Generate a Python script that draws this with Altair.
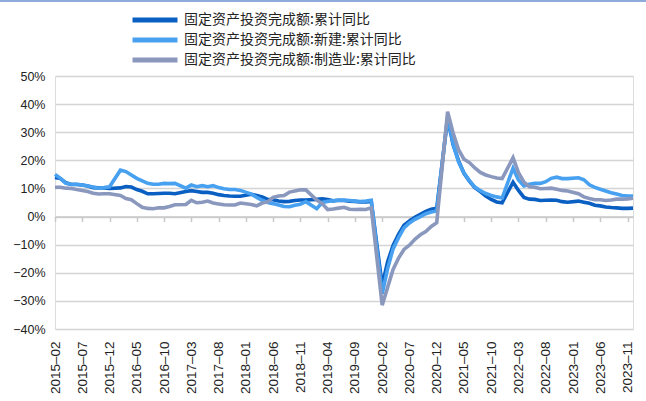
import altair as alt
import pandas as pd

# series names
names = ["固定资产投资完成额:累计同比", "固定资产投资完成额:新建:累计同比", "固定资产投资完成额:制造业:累计同比"]
colors = ["#0A5FC2", "#47A1F0", "#8A98BE"]

# axis labels (every 5 months)
tick_labels = ["2015-02", "2015-07", "2015-12", "2016-05", "2016-10", "2017-03", "2017-08",
               "2018-01", "2018-06", "2018-11", "2019-04", "2019-09", "2020-02", "2020-07",
               "2020-12", "2021-05", "2021-10", "2022-03", "2022-08", "2023-01", "2023-06", "2023-11"]

# Feb..Dec values per year (January not published)
fai = [
    13.9, 13.5, 12.0, 11.4, 11.4, 11.2, 10.9, 10.3, 10.2, 10.2, 10.0,   # 2015
    10.2, 10.7, 10.5, 9.6, 9.0, 8.1, 8.1, 8.2, 8.3, 8.3, 8.1,           # 2016
    8.9, 9.2, 8.9, 8.6, 8.6, 8.3, 7.8, 7.5, 7.3, 7.2, 7.2,              # 2017
    7.9, 7.5, 7.0, 6.1, 6.0, 5.5, 5.3, 5.4, 5.7, 5.9, 5.9,              # 2018
    6.1, 6.3, 6.1, 5.6, 5.8, 5.7, 5.5, 5.4, 5.2, 5.2, 5.4,              # 2019
    -24.5, -16.1, -10.3, -6.3, -3.1, -1.6, -0.3, 0.8, 1.8, 2.6, 2.9,    # 2020
    35.0, 25.6, 19.9, 15.4, 12.6, 10.3, 8.9, 7.3, 6.1, 5.2, 4.9,        # 2021
    12.2, 9.3, 6.8, 6.2, 6.1, 5.7, 5.8, 5.9, 5.8, 5.3, 5.1,             # 2022
    5.5, 5.1, 4.7, 4.0, 3.8, 3.4, 3.2, 3.1, 2.9, 2.9, 3.0,              # 2023
]
new_build = [
    15.0, 13.6, 11.8, 11.5, 11.5, 11.2, 10.9, 10.5, 10.1, 10.3, 10.6,   # 2015
    16.5, 16.0, 14.8, 13.6, 12.7, 11.8, 11.5, 11.5, 11.8, 11.7, 11.8,   # 2016
    10.1, 11.2, 10.6, 11.0, 10.6, 11.0, 10.3, 9.9, 9.6, 9.6, 9.3,       # 2017
    8.0, 6.8, 5.8, 5.0, 4.6, 4.1, 3.6, 3.5, 4.0, 4.4, 5.3,              # 2018
    2.8, 5.0, 5.4, 5.6, 5.8, 5.9, 5.7, 5.5, 5.3, 5.5, 5.8,              # 2019
    -27.5, -18.5, -11.5, -7.5, -4.0, -2.3, -1.0, 0.0, 1.0, 1.6, 2.0,    # 2020
    35.5, 26.0, 19.5, 15.5, 12.8, 10.5, 9.2, 8.2, 7.5, 7.0, 6.6,        # 2021
    17.2, 13.0, 10.9, 11.5, 11.8, 11.8, 12.4, 13.6, 14.0, 13.5, 13.5,   # 2022
    13.8, 13.1, 11.3, 10.4, 9.7, 9.1, 8.5, 8.0, 7.5, 7.3, 7.3,          # 2023
]
manufacturing = [
    10.4, 10.4, 10.1, 10.0, 9.6, 9.3, 8.9, 8.3, 8.0, 8.1, 8.1,          # 2015
    7.5, 6.4, 6.0, 4.6, 3.3, 2.9, 2.8, 3.1, 3.1, 3.6, 4.2,              # 2016
    4.3, 5.8, 4.9, 5.1, 5.5, 4.8, 4.5, 4.2, 4.1, 4.1, 4.8,              # 2017
    4.3, 3.8, 4.8, 5.2, 6.8, 7.3, 7.5, 8.7, 9.1, 9.5, 9.5,              # 2018
    5.9, 4.6, 2.5, 2.7, 3.0, 3.3, 2.6, 2.5, 2.6, 2.5, 3.1,              # 2019
    -31.5, -25.2, -18.8, -14.8, -11.7, -10.2, -8.1, -6.5, -5.3, -3.5, -2.2,  # 2020
    37.3, 29.8, 23.8, 20.4, 19.2, 17.3, 15.7, 14.8, 14.2, 13.7, 13.5,   # 2021
    20.9, 15.6, 12.2, 10.6, 10.4, 9.9, 10.0, 10.1, 9.7, 9.3, 9.1,       # 2022
    8.1, 7.0, 6.4, 6.0, 6.0, 5.7, 5.9, 6.2, 6.2, 6.3, 6.5,              # 2023
]

all_months = [p.strftime("%Y-%m") for p in pd.period_range("2015-02", "2023-12", freq="M")]
data_months = [m for m in all_months if not m.endswith("-01")]

rows = []
for name, vals in zip(names, [fai, new_build, manufacturing]):
    for m, v in zip(data_months, vals):
        rows.append({"month": m, "value": v, "series": name})
df = pd.DataFrame(rows)

W, H = 578, 253
YMIN, YMAX = -40, 50
zero_offset = -H * (0 - YMIN) / (YMAX - YMIN)

xscale = alt.Scale(domain=all_months, type="point", padding=0)
yscale = alt.Scale(domain=[YMIN, YMAX], nice=False)
cscale = alt.Scale(domain=names, range=colors)

x_main = alt.X("month:O", scale=xscale, title=None,
               axis=alt.Axis(orient="bottom", values=tick_labels, labelAngle=270, labelFont="Liberation Sans",
                             labelFontSize=13.5, labelColor="#222222", labelPadding=12,
                             ticks=False, domain=False, grid=False,
                             labelExpr="replace(datum.label, '-', '–')"))
y_main = alt.Y("value:Q", scale=yscale, title=None,
               axis=alt.Axis(values=list(range(-40, 51, 10)), labelExpr="format(datum.value, 'd') + '%'",
                             labelFont="Liberation Sans", labelFontSize=12.5, labelColor="#222222",
                             labelPadding=10, ticks=False, domain=False, grid=True,
                             gridColor="#D4D4D4", gridWidth=1.5))

legend = alt.Legend(title=None, orient="none", legendX=90, legendY=-66, padding=0,
                    symbolType="M-3,0H3", symbolSize=225, symbolStrokeWidth=5,
                    labelOffset=19, labelFont="Noto Sans CJK SC", labelFontSize=14,
                    labelColor="#222222", rowPadding=-1, labelLimit=400)

layers = []
for i, name in enumerate(names):
    layers.append(
        alt.Chart(df).transform_filter(alt.datum.series == name).mark_line(strokeWidth=3.6).encode(
            x=x_main,
            y=y_main,
            color=alt.Color("series:N", scale=cscale, sort=names, legend=legend),
        )
    )
lines = alt.layer(*layers)

zero_axis = alt.Chart(df).mark_point(opacity=0).encode(
    x=alt.X("month:O", scale=xscale, title=None,
            axis=alt.Axis(orient="bottom", values=tick_labels, labels=False, ticks=True, tickSize=5,
                          tickColor="#C8C8C8", tickWidth=1.5, domain=True, domainColor="#C8C8C8",
                          domainWidth=1.5, grid=False, offset=zero_offset)),
    y=y_main,
)

# thin frame line along the top edge of the picture
frame_top = alt.Chart(df).mark_rule(color="#8EAADB", strokeWidth=1.5, clip=False).encode(
    x=alt.value(-55), x2=alt.value(W + 13), y=alt.value(-75.5)
)

chart = alt.layer(lines, zero_axis, frame_top).resolve_axis(x="independent").properties(
    width=W, height=H,
    autosize=alt.AutoSizeParams(type="none"),
    padding={"left": 55, "top": 76, "right": 13, "bottom": 72},
).configure_view(stroke=None).configure(background="white")

chart.save("out.html", embed_options={"renderer": "svg", "actions": False})
